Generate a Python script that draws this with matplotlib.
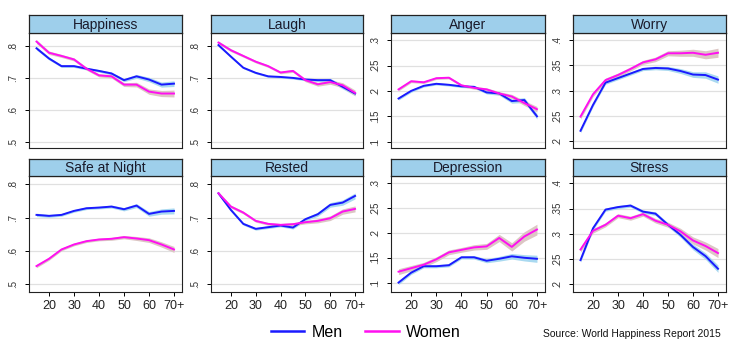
"""Well-being by age and gender, small multiples."""

import matplotlib
matplotlib.use("Agg")
import matplotlib.pyplot as plt
from matplotlib.lines import Line2D

plt.rcParams['font.family'] = ['Liberation Sans', 'DejaVu Sans']

ages = [15, 20, 25, 30, 35, 40, 45, 50, 55, 60, 65, 70]
age_ticks = [20, 30, 40, 50, 60, 70]
age_labels = ["20", "30", "40", "50", "60", "70+"]

titles = ["Happiness", "Laugh", "Anger", "Worry",
          "Safe at Night", "Rested", "Depression", "Stress"]

happiness_men = [0.793, 0.761, 0.737, 0.737, 0.729, 0.722, 0.714, 0.693, 0.705, 0.695, 0.679, 0.682]
happiness_women = [0.814, 0.779, 0.769, 0.758, 0.729, 0.708, 0.705, 0.679, 0.679, 0.657, 0.651, 0.651]
laugh_men = [0.803, 0.767, 0.732, 0.716, 0.705, 0.703, 0.700, 0.695, 0.693, 0.693, 0.672, 0.651]
laugh_women = [0.811, 0.787, 0.769, 0.751, 0.737, 0.717, 0.722, 0.693, 0.680, 0.687, 0.677, 0.653]
anger_men = [0.185, 0.200, 0.210, 0.214, 0.212, 0.209, 0.208, 0.197, 0.195, 0.180, 0.182, 0.150]
anger_women = [0.203, 0.219, 0.217, 0.225, 0.226, 0.211, 0.206, 0.203, 0.195, 0.189, 0.176, 0.164]
worry_men = [0.221, 0.272, 0.316, 0.325, 0.334, 0.343, 0.345, 0.344, 0.339, 0.332, 0.331, 0.322]
worry_women = [0.249, 0.293, 0.321, 0.331, 0.343, 0.356, 0.362, 0.374, 0.374, 0.375, 0.371, 0.375]
safe_men = [0.708, 0.705, 0.708, 0.720, 0.728, 0.730, 0.733, 0.725, 0.736, 0.711, 0.718, 0.720]
safe_women = [0.554, 0.576, 0.604, 0.619, 0.629, 0.634, 0.636, 0.641, 0.637, 0.632, 0.619, 0.604]
rested_men = [0.773, 0.723, 0.681, 0.666, 0.671, 0.676, 0.670, 0.695, 0.710, 0.738, 0.745, 0.765]
rested_women = [0.773, 0.733, 0.715, 0.690, 0.681, 0.678, 0.680, 0.686, 0.690, 0.698, 0.718, 0.726]
depression_men = [0.100, 0.120, 0.133, 0.133, 0.135, 0.151, 0.151, 0.144, 0.148, 0.153, 0.150, 0.148]
depression_women = [0.122, 0.129, 0.136, 0.147, 0.161, 0.166, 0.171, 0.173, 0.190, 0.172, 0.193, 0.207]
stress_men = [0.248, 0.311, 0.348, 0.353, 0.356, 0.344, 0.340, 0.318, 0.298, 0.274, 0.256, 0.231]
stress_women = [0.269, 0.306, 0.318, 0.336, 0.331, 0.339, 0.326, 0.318, 0.305, 0.287, 0.276, 0.262]

# confidence band half-widths (one per panel) and how they widen with age
band_men = [0.005, 0.004, 0.003, 0.004, 0.005, 0.005, 0.004, 0.004]
band_women = [0.006, 0.005, 0.003, 0.005, 0.005, 0.005, 0.006, 0.005]
band_shape = [1.0, 0.9, 0.8, 0.8, 0.8, 0.8, 0.9, 1.0, 1.2, 1.4, 1.6, 1.8]

men = [happiness_men, laugh_men, anger_men, worry_men,
       safe_men, rested_men, depression_men, stress_men]
women = [happiness_women, laugh_women, anger_women, worry_women,
         safe_women, rested_women, depression_women, stress_women]

yticks_a = [0.5, 0.6, 0.7, 0.8]
yticks_b = [0.1, 0.15, 0.2, 0.25, 0.3]
yticks_c = [0.2, 0.25, 0.3, 0.35, 0.4]

MEN_C = "#1a1aff"
WOMEN_C = "#ff10f0"
MEN_BAND = "#a9d9f0"
WOMEN_BAND = "#dcc6c4"
BAR_C = "#9ecfeb"

W, H = 748, 359
fig = plt.figure(figsize=(W / 100, H / 100), dpi=100)


def box(left, top, right, bottom):
    return [left / W, 1 - bottom / H, (right - left) / W, (bottom - top) / H]


cols = [(29, 182), (211, 363), (391, 545), (573, 726)]
rows = [((15, 33), (33, 148)), ((159, 176), (176, 292))]
ylims = [[(0.480, 0.841), (0.480, 0.841), (0.0876, 0.314), (0.187, 0.414)],
         [(0.476, 0.825), (0.476, 0.825), (0.081, 0.315), (0.185, 0.4145)]]
yticks = [yticks_a, yticks_a, yticks_b, yticks_c]

for i in range(8):
    r, c = divmod(i, 4)
    (t0, t1), (p0, p1) = rows[r]
    l, rt = cols[c]

    ax = fig.add_axes(box(l, p0, rt, p1))
    bm = [band_men[i] * s for s in band_shape]
    bw = [band_women[i] * s for s in band_shape]
    ax.fill_between(ages, [v - b for v, b in zip(men[i], bm)],
                    [v + b for v, b in zip(men[i], bm)], color=MEN_BAND, lw=0, zorder=2)
    ax.fill_between(ages, [v - b for v, b in zip(women[i], bw)],
                    [v + b for v, b in zip(women[i], bw)], color=WOMEN_BAND, lw=0, zorder=2)
    ax.plot(ages, men[i], color=MEN_C, lw=1.4, zorder=3)
    ax.plot(ages, women[i], color=WOMEN_C, lw=1.4, zorder=3)

    ax.set_xlim(12, 73.2)
    ax.set_ylim(*ylims[r][c])
    ax.set_yticks(yticks[c])
    ax.set_yticklabels([("%g" % v).lstrip("0") for v in yticks[c]],
                       rotation=90, va="center", fontsize=7, color="#333333")
    ax.yaxis.grid(True, color="#e0e0e0", lw=0.9, zorder=0)
    ax.set_axisbelow(True)
    ax.tick_params(axis="y", length=3, width=0.7, pad=5)
    if r == 0:
        ax.set_xticks([])
    else:
        ax.set_xticks(age_ticks)
        ax.set_xticklabels(age_labels, fontsize=9, color="#222222")
        ax.tick_params(axis="x", length=3, width=0.7, pad=3)
    for s in ax.spines.values():
        s.set_linewidth(0.8)
        s.set_color("#222222")

    tax = fig.add_axes(box(l, t0, rt, t1))
    tax.set_facecolor(BAR_C)
    tax.set_xticks([])
    tax.set_yticks([])
    for s in tax.spines.values():
        s.set_linewidth(0.9)
        s.set_color("#222222")
    tax.text(0.5, 0.45, titles[i], ha="center", va="center",
             fontsize=10, color="#1a1a2a", transform=tax.transAxes)

handles = [Line2D([], [], color=MEN_C, lw=1.8), Line2D([], [], color=WOMEN_C, lw=1.8)]
fig.legend(handles, ["Men", "Women"], loc="center", bbox_to_anchor=(0.489, 0.075),
           ncol=2, frameon=False, fontsize=11.5, handlelength=2.1,
           columnspacing=1.4, handletextpad=0.45)
fig.text(543 / W, 1 - 334 / H, "Source: World Happiness Report 2015",
         fontsize=7.5, va="center", ha="left", color="#111111")

fig.savefig("out.png", dpi=100)
